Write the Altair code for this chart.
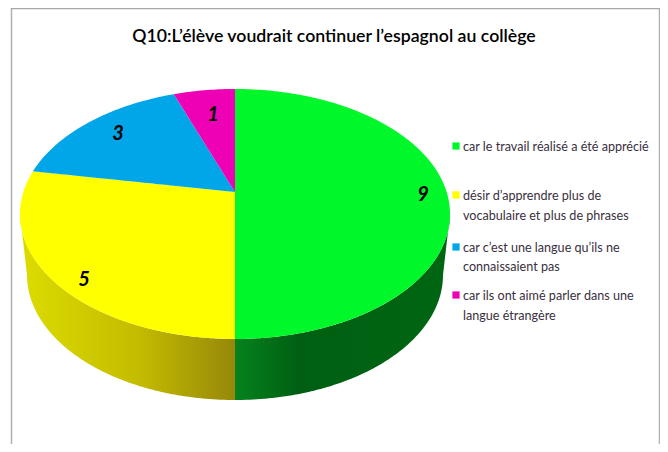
import math
import altair as alt
import pandas as pd

TITLE = "Q10:L’élève voudrait continuer l’espagnol au collège"
values = [9, 5, 3, 1]
colors = ["#00f82a", "#ffff00", "#00a6e8", "#ee00b4"]
legend_lines = [
    ["car le travail réalisé a été apprécié"],
    ["désir d’apprendre plus de", "vocabulaire et plus de phrases"],
    ["car c’est une langue qu’ils ne", "connaissaient pas"],
    ["car ils ont aimé parler dans une", "langue étrangère"],
]

# layout of the tilted pie (page pixels)
CX, CY, RX, RY = 235, 214, 215, 125
APEX_Y = 192
BOT_CY, BOT_RX, BOT_RY = 275, 208, 125
LABEL_XY = [(423, 195), (84, 280), (118, 134), (213, 115)]
LEGEND_Y = [(146, [147]), (195, [196, 216]), (247, [248, 267]), (295, [296, 316])]

X = alt.X("x:Q", scale=alt.Scale(domain=[8, 660], nice=False, zero=False), axis=None)
Y = alt.Y("y:Q", scale=alt.Scale(domain=[444, 8], nice=False, zero=False), axis=None)


def rim(t_deg):
    """Point of the top ellipse hit by the ray leaving the apex at pie angle t."""
    t = math.radians(t_deg)
    d = (CY - APEX_Y) / RY
    s = -d * math.cos(t) + math.sqrt(d * d * math.cos(t) ** 2 - d * d + 1)
    return CX + RX * s * math.sin(t), CY + RY * (-d - s * math.cos(t))


def scan(poly):
    """Turn a polygon into x / y / y2 rows for an area mark."""
    rows = []
    xs = sorted({round(p[0], 2) for p in poly})
    for x in xs:
        ys = []
        n = len(poly)
        for i in range(n):
            (x0, y0), (x1, y1) = poly[i], poly[(i + 1) % n]
            x0r, x1r = round(x0, 2), round(x1, 2)
            lo, hi = min(x0r, x1r), max(x0r, x1r)
            if lo <= x <= hi:
                if x0r == x1r:
                    ys += [y0, y1]
                else:
                    ys.append(y0 + (y1 - y0) * (x - x0r) / (x1r - x0r))
        rows.append({"x": x, "y": min(ys), "y2": max(ys)})
    return pd.DataFrame(rows)


def area(poly, color):
    return alt.Chart(scan(poly)).mark_area(color=color, orient="vertical", interpolate="linear", line=False).encode(
        x=X, y=Y, y2="y2:Q"
    )


def wall(t0, t1):
    top = [(CX + RX * math.sin(math.radians(t)), CY - RY * math.cos(math.radians(t)))
           for t in range(t0, t1 + 1)]
    bot = [(CX + BOT_RX * math.sin(math.radians(t)), BOT_CY - BOT_RY * math.cos(math.radians(t)))
           for t in range(t1, t0 - 1, -1)]
    return top + bot


def grad(stops):
    return alt.Gradient(
        gradient="linear", x1=0, x2=1, y1=0, y2=0,
        stops=[alt.GradientStop(offset=o, color=c) for o, c in stops],
    )


layers = []

# side walls
layers.append(area(wall(90, 180), grad([(0, "#06821e"), (0.3, "#005f12"), (1, "#006612")])))
layers.append(area(wall(180, 270), grad([(0, "#dcdc00"), (0.55, "#c4bc00"), (1, "#96880a")])))

# top slices, clockwise from 12 o'clock
total = sum(values)
start = 0.0
for v, c in zip(values, colors):
    end = start + 360 * v / total
    steps = max(2, int(end - start))
    arc = [rim(start + (end - start) * i / steps) for i in range(steps + 1)]
    layers.append(area([(CX, APEX_Y)] + arc, c))
    start = end

# value labels
labels = pd.DataFrame({"x": [p[0] for p in LABEL_XY], "y": [p[1] for p in LABEL_XY], "v": values})
layers.append(
    alt.Chart(labels).mark_text(font="Lato", fontSize=20, fontWeight="bold", fontStyle="italic",
                                color="#000000", align="center", baseline="middle").encode(x=X, y=Y, text="v:N")
)

# legend
sq = pd.DataFrame({"x": [456] * 4, "y": [p[0] for p in LEGEND_Y], "c": colors})
layers.append(
    alt.Chart(sq).mark_square(size=52, opacity=1, filled=True).encode(x=X, y=Y, color=alt.Color("c:N", scale=None))
)
rows = []
for lines, (_, ys) in zip(legend_lines, LEGEND_Y):
    for t, y in zip(lines, ys):
        rows.append({"x": 463, "y": y, "t": t})
layers.append(
    alt.Chart(pd.DataFrame(rows)).mark_text(font="Lato", fontSize=12.6, color="#3a3040", align="left",
                                            baseline="middle").encode(x=X, y=Y, text="t:N")
)

# frame
frame_v = pd.DataFrame({"x": [11.5, 659.5], "y": [8, 8], "y2": [444, 444]})
layers.append(
    alt.Chart(frame_v).mark_rule(color="#b0b0b0", strokeWidth=1.5, clip=False).encode(x=X, y=Y, y2="y2:Q")
)
frame_h = pd.DataFrame({"x": [11], "x2": [660], "y": [8.5]})
layers.append(
    alt.Chart(frame_h).mark_rule(color="#a8a8a8", strokeWidth=1.5).encode(x=X, x2="x2:Q", y=Y)
)

chart = alt.layer(*layers).properties(
    width=652, height=436, padding=0, autosize=alt.AutoSizeParams(type="none"),
    background="#ffffff",
    title=alt.TitleParams(TITLE, anchor="middle", offset=-38, font="Lato", fontSize=17.7,
                          fontWeight=600, color="#000000"),
).configure_view(stroke=None)

chart.save("out.html", embed_options={"renderer": "svg", "actions": False})
